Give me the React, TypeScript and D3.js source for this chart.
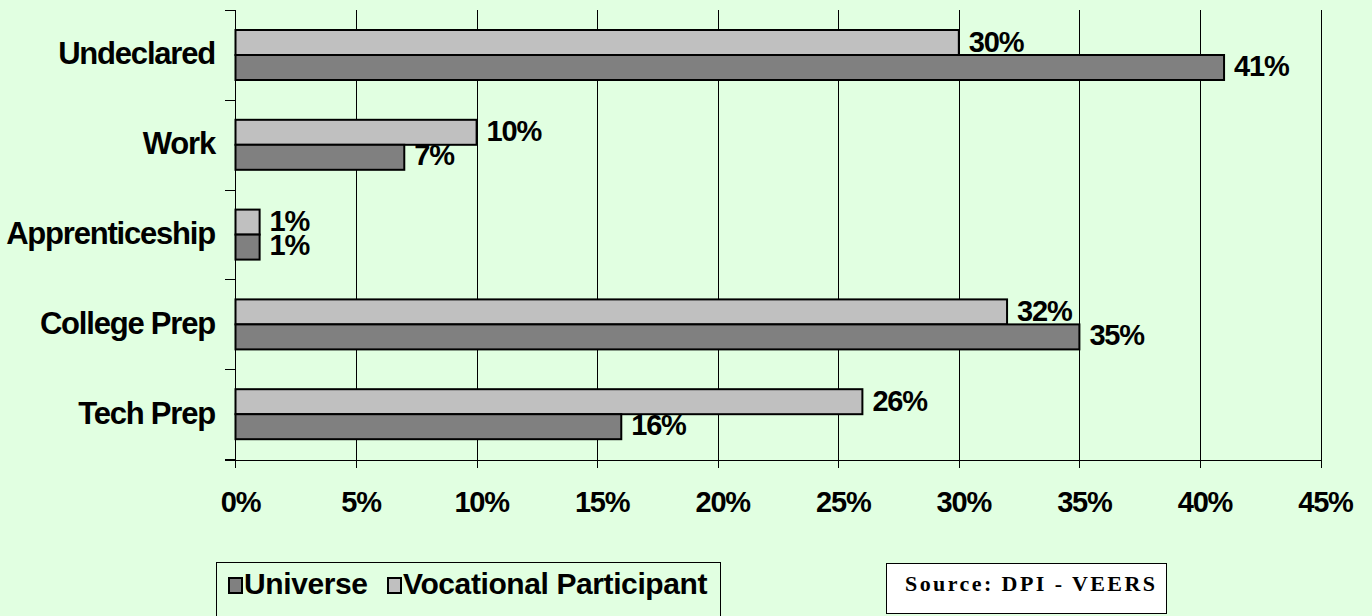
import React from "react";
import * as d3 from "d3";

const categories = ["Undeclared", "Work", "Apprenticeship", "College Prep", "Tech Prep"];
const universe = [41, 7, 1, 35, 16];
const vocational = [30, 10, 1, 32, 26];
const xTicks = [0, 5, 10, 15, 20, 25, 30, 35, 40, 45];
const seriesNames = ["Universe", "Vocational Participant"];
const sourceText = "Source: DPI - VEERS";

const W = 1372;
const H = 616;
const BG = "#E1FFE1";
const LIGHT = "#C0C0C0";
const DARK = "#808080";
const FONT = "'Liberation Sans', Arial, sans-serif";

export default function App() {
  const x = d3.scaleLinear().domain([0, 45]).range([235.5, 1320.5]);
  const y = d3.scaleBand<string>().domain(categories).range([10, 459]);
  const inner = d3.scaleBand<string>().domain(["voc", "uni"]).range([20, 70]);
  const bh = inner.bandwidth();
  const x0 = x(0);
  const top = 10;
  const bottom = 460;
  const bounds = categories.map((c) => y(c) as number).concat([459]);

  return (
    <svg
      width={W}
      height={H}
      style={{ position: "absolute", left: 0, top: 0, display: "block" }}
      fontFamily={FONT}
    >
      <rect x={0} y={0} width={W} height={H} fill={BG} />
      {/* gridlines */}
      {xTicks.slice(1).map((t) => (
        <line key={"g" + t} x1={Math.round(x(t)) + 0.5} x2={Math.round(x(t)) + 0.5} y1={top} y2={bottom + 8} stroke="#000" strokeWidth={1} />
      ))}
      {/* left axis */}
      <line x1={235.5} x2={235.5} y1={top} y2={bottom + 8} stroke="#000" strokeWidth={1} />
      {bounds.map((b, i) => (
        <line key={"lt" + i} x1={225} x2={235.5} y1={Math.round(b) + 0.5} y2={Math.round(b) + 0.5} stroke="#000" strokeWidth={1} />
      ))}
      {/* bottom axis */}
      <line x1={225} x2={Math.round(x(45)) + 0.5} y1={bottom + 0.5} y2={bottom + 0.5} stroke="#000" strokeWidth={1} />
      {xTicks.map((t) => (
        <text key={"t" + t} x={x(t) + 5} y={512} textAnchor="middle" fontSize={29} letterSpacing={-1.2} fontWeight="bold" fill="#000">
          {t + "%"}
        </text>
      ))}
      {/* bars */}
      {categories.map((c, i) => {
        const by = y(c) as number;
        const yv = by + (inner("voc") as number);
        const yu = by + (inner("uni") as number);
        return (
          <g key={c}>
            <rect x={x0} y={yv} width={x(vocational[i]) - x0} height={bh} fill={LIGHT} stroke="#000" strokeWidth={2} />
            <rect x={x0} y={yu} width={x(universe[i]) - x0} height={bh} fill={DARK} stroke="#000" strokeWidth={2} />
            <text x={x(vocational[i]) + 10} y={yv + bh / 2 + 9} fontSize={29} letterSpacing={-1.2} fontWeight="bold" fill="#000">
              {vocational[i] + "%"}
            </text>
            <text x={x(universe[i]) + 10} y={yu + bh / 2 + 8} fontSize={29} letterSpacing={-1.2} fontWeight="bold" fill="#000">
              {universe[i] + "%"}
            </text>
            <text x={215} y={by + y.bandwidth() / 2 + 9.5} textAnchor="end" fontSize={31} letterSpacing={-1.2} fontWeight="bold" fill="#000">
              {c}
            </text>
          </g>
        );
      })}
      {/* legend */}
      <rect x={216.5} y={562.5} width={504} height={80} fill={BG} stroke="#000" strokeWidth={1} />
      <rect x={229} y={578} width={13} height={15} fill={DARK} stroke="#000" strokeWidth={2} />
      <text x={244} y={594} fontSize={30} letterSpacing={-0.4} fontWeight="bold" fill="#000">{seriesNames[0]}</text>
      <rect x={388} y={578} width={13} height={15} fill={LIGHT} stroke="#000" strokeWidth={2} />
      <text x={403} y={594} fontSize={30} letterSpacing={-0.4} fontWeight="bold" fill="#000">{seriesNames[1]}</text>
      {/* source box */}
      <rect x={886.5} y={563.5} width={280} height={50} fill="#fff" stroke="#000" strokeWidth={1} />
      <text
        x={905}
        y={591}
        fontFamily="'Liberation Serif', 'Times New Roman', serif"
        fontSize={22}
        fontWeight="bold"
        fill="#000"
        textLength={250}
        lengthAdjust="spacing"
      >
        {sourceText}
      </text>
    </svg>
  );
}
